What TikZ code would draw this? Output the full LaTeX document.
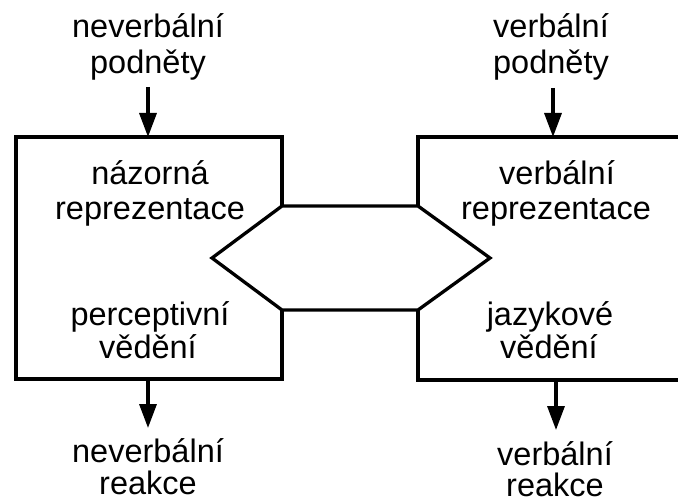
\documentclass[tikz,border=0pt]{standalone}
\usepackage{fontspec}
\setmainfont{Liberation Sans}
\usetikzlibrary{arrows.meta}
\begin{document}
\begin{tikzpicture}[x=1pt,y=-1pt,
  lbl/.style={anchor=base,inner sep=0pt,font=\fontsize{32.5}{36}\selectfont},
  frame/.style={line width=3.3pt,line join=miter},
  arr/.style={line width=3.3pt,-{Triangle[length=24pt,width=17pt]}}]
\useasboundingbox (0,0) rectangle (678,503);
% frames
\coordinate (A1) at (282,206);
\coordinate (A2) at (418,206);
\coordinate (Rt) at (490,258);
\coordinate (B2) at (418,310);
\coordinate (B1) at (282,310);
\coordinate (Lt) at (212,258);
\draw[frame] (A1) -- (282,137) -- (16,137) -- (16,379) -- (282,379) -- (B1);
\draw[frame] (A1) -- (A2) -- (Rt) -- (B2) -- (B1) -- (Lt) -- cycle;
\draw[frame] (A2) -- (418,137) -- (680,137);
\draw[frame] (B2) -- (418,380) -- (680,380);
% texts left
\node[lbl] (tl1) at (148,38) {neverbální};
\node[lbl] (tl2) at (148,74) {podněty};
\node[lbl] (bl1) at (150,184) {názorná};
\node[lbl] (bl2) at (150,219) {reprezentace};
\node[lbl] (bl3) at (150,325) {perceptivní};
\node[lbl] (bl4) at (148,358) {vědění};
\node[lbl] (ol1) at (148,462) {neverbální};
\node[lbl] (ol2) at (148,494) {reakce};
% texts right
\node[lbl] (tr1) at (551,38) {verbální};
\node[lbl] (tr2) at (551,74) {podněty};
\node[lbl] (br1) at (557,184) {verbální};
\node[lbl] (br2) at (556,219) {reprezentace};
\node[lbl] (br3) at (550,325) {jazykové};
\node[lbl] (br4) at (549,358) {vědění};
\node[lbl] (or1) at (555,465) {verbální};
\node[lbl] (or2) at (555,496) {reakce};
% arrows
\coordinate (s1) at (148,87); \coordinate (e1) at (148,137);
\coordinate (s2) at (553,88); \coordinate (e2) at (553,137);
\coordinate (s3) at (148,379); \coordinate (e3) at (148,428);
\coordinate (s4) at (556,380); \coordinate (e4) at (556,430);
\draw[arr] (s1) -- (e1);
\draw[arr] (s2) -- (e2);
\draw[arr] (s3) -- (e3);
\draw[arr] (s4) -- (e4);
\end{tikzpicture}
\end{document}
